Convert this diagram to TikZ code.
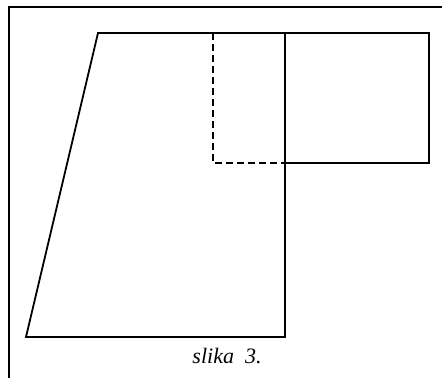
\documentclass[tikz,border=0pt]{standalone}
\usepackage{fontspec}
\setmainfont{Liberation Serif}
\tikzset{
  sframe/.style={line width=2.2pt, black},
  sline/.style={line width=1.8pt, black, line join=miter},
  shidden/.style={line width=1.5pt, black, dash pattern=on 7pt off 4pt},
  scap/.style={font=\itshape\fontsize{22}{24}\selectfont, inner sep=0pt}
}
\begin{document}
\begin{tikzpicture}[x=1pt, y=-1pt]
    % page area and frame
    \useasboundingbox (0,0) rectangle (442,378);
    \draw[sframe] (9,378) -- (9,7) -- (442,7);
    % trapezoid
    \draw[sline] (26,337) -- (98,33) -- (285,33) -- (285,337) -- cycle;
    % right rectangle
    \draw[sline] (285,33) rectangle (429,163);
    % hidden corner
    \draw[shidden] (213,33) -- (213,163) -- (285,163);
    % caption
    \node[scap] (cap) at (227,356) {slika\ \ 3.};
\end{tikzpicture}
\end{document}
